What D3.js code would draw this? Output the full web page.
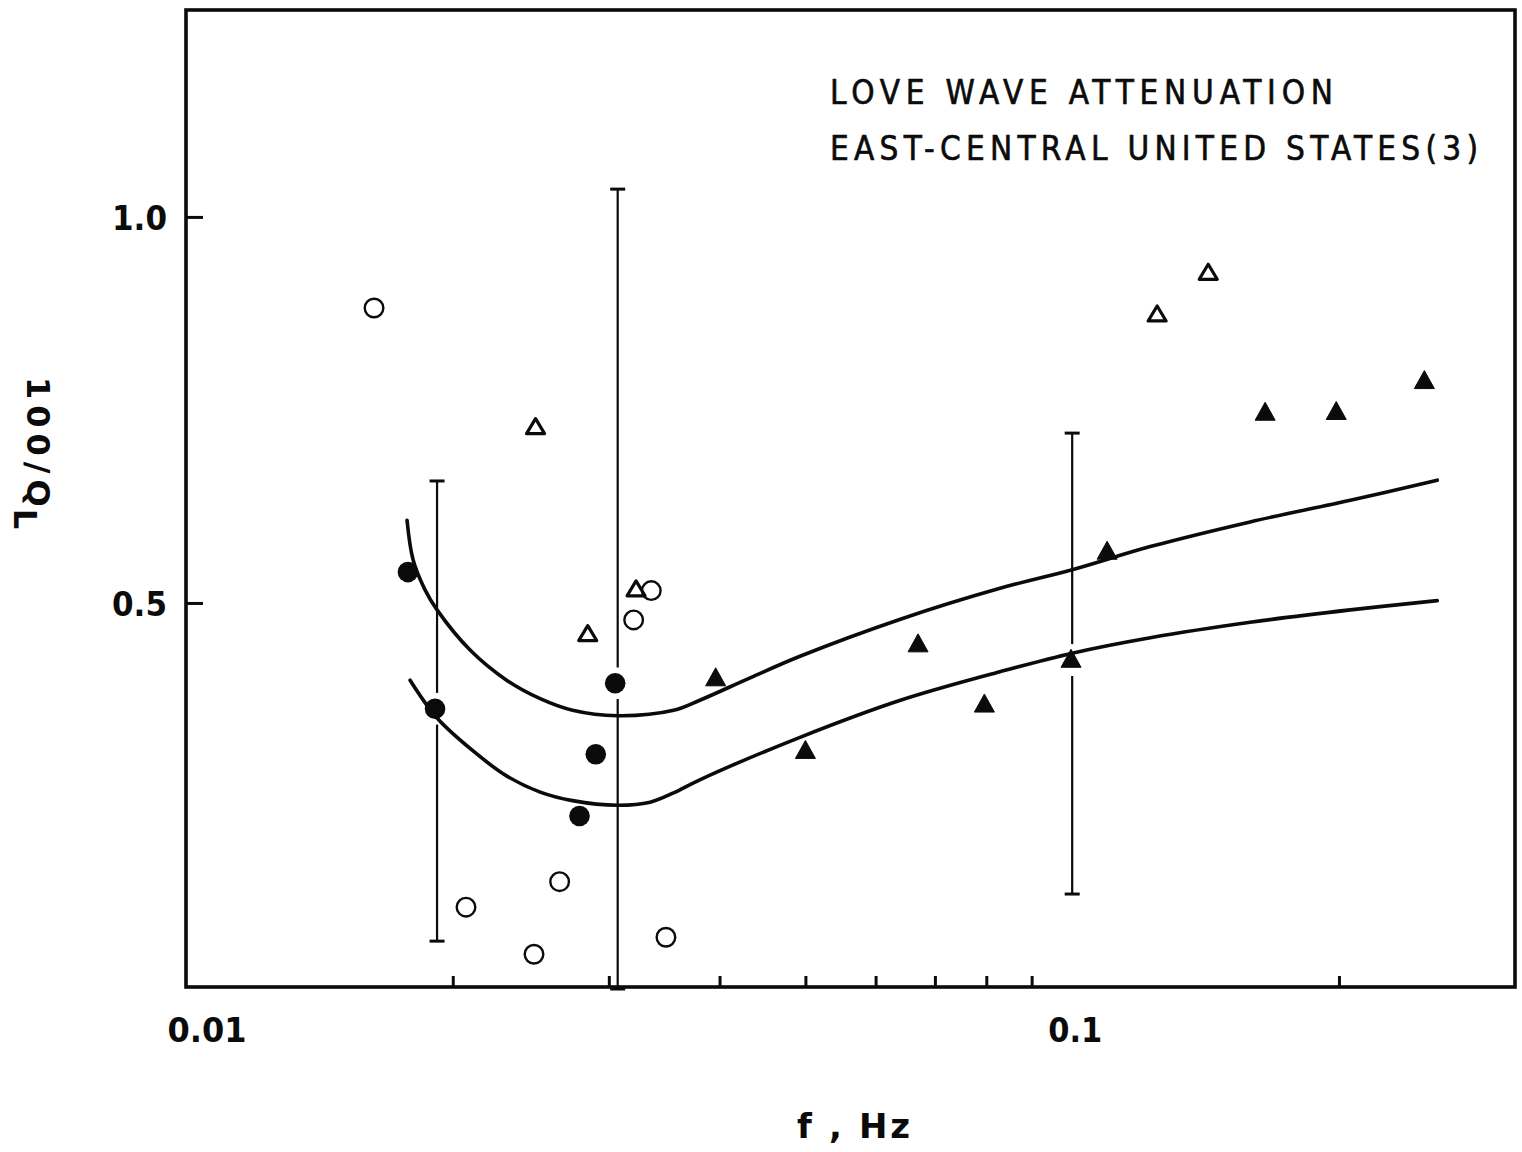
<!DOCTYPE html>
<html>
<head>
<meta charset="utf-8">
<script src="https://cdn.jsdelivr.net/npm/d3@7"></script>
<style>
  body { margin: 0; background: #fff; }
  svg { display: block; }
</style>
</head>
<body>
<svg id="chart" width="1522" height="1152"></svg>
<script>
// Love wave attenuation, east-central United States: 100/Q_L against frequency.

// Observations: open circles
const openCircleF = [0.0163, 0.0207, 0.0247, 0.0264, 0.0320, 0.0335, 0.0348];
const openCircleQ = [0.882, 0.106, 0.045, 0.139, 0.478, 0.516, 0.067];

// Observations: filled circles
const filledCircleF = [0.0178, 0.0191, 0.0278, 0.0290, 0.0305];
const filledCircleQ = [0.540, 0.363, 0.224, 0.304, 0.396];

// Observations: open triangles
const openTriangleF = [0.0248, 0.0284, 0.0322, 0.1247, 0.1424];
const openTriangleQ = [0.727, 0.459, 0.517, 0.873, 0.927];

// Observations: filled triangles
const filledTriangleF = [0.0396, 0.0500, 0.0670, 0.0796, 0.0997, 0.1095, 0.1651, 0.1986, 0.2497];
const filledTriangleQ = [0.402, 0.308, 0.446, 0.368, 0.426, 0.566, 0.746, 0.747, 0.787];

// Error bars
const errorF  = [0.0192, 0.0307, 0.1000];
const errorLo = [0.062, 0.000, 0.123];
const errorHi = [0.658, 1.036, 0.720];

// Bounding curves of the model range
const upperCurveF = [0.01776, 0.01804, 0.01861, 0.0192, 0.02092, 0.0230, 0.0251, 0.0273, 0.0307, 0.0355, 0.0380, 0.0433, 0.0493, 0.0640, 0.0829, 0.1000, 0.1225, 0.1588, 0.2060, 0.2582];
const upperCurveQ = [0.607, 0.556, 0.517, 0.491, 0.439, 0.400, 0.376, 0.361, 0.354, 0.361, 0.374, 0.403, 0.431, 0.479, 0.519, 0.543, 0.573, 0.605, 0.633, 0.659];
const lowerCurveF = [0.0179, 0.0192, 0.0211, 0.0230, 0.0251, 0.0273, 0.0307, 0.0334, 0.0355, 0.0380, 0.0493, 0.0640, 0.0829, 0.1000, 0.1225, 0.1588, 0.2060, 0.2582];
const lowerCurveQ = [0.400, 0.351, 0.308, 0.276, 0.255, 0.244, 0.238, 0.242, 0.254, 0.271, 0.326, 0.374, 0.411, 0.435, 0.455, 0.475, 0.491, 0.503];

// Axis ticks and labels
const xMinorTicks = [0.02, 0.03, 0.04, 0.05, 0.06, 0.07, 0.08, 0.09, 0.2];
const xLabelValues = [0.01, 0.1];
const xLabelText = ["0.01", "0.1"];
const yTickValues = [0.5, 1.0];
const yTickText = ["0.5", "1.0"];

const titleLines = ["LOVE WAVE ATTENUATION", "EAST-CENTRAL UNITED STATES(3)"];

const svg = d3.select("#chart");
const x = d3.scaleLog().domain([0.01, 0.316]).range([186, 1515]);
const y = d3.scaleLinear().domain([0, 1.268]).range([989, 10]);
const ink = "#0b0b0b";
const zip = (a, b) => a.map((v, i) => [v, b[i]]);

// Frame
svg.append("rect")
  .attr("x", x.range()[0]).attr("y", y.range()[1])
  .attr("width", x.range()[1] - x.range()[0])
  .attr("height", y.range()[0] - y.range()[1] - 2)
  .attr("fill", "none").attr("stroke", ink).attr("stroke-width", 3.6);

// Minor ticks on the frequency axis (pointing into the plot)
const xAxis = svg.append("g")
  .attr("transform", `translate(0,${y.range()[0] - 2})`)
  .call(d3.axisBottom(x).tickValues(xMinorTicks).tickSize(-11).tickFormat(""));
xAxis.select(".domain").remove();
xAxis.selectAll(".tick line").attr("stroke", ink).attr("stroke-width", 3);

// Ticks on the 100/Q axis
const yAxis = svg.append("g")
  .attr("transform", `translate(${x.range()[0]},0)`)
  .call(d3.axisLeft(y).tickValues(yTickValues).tickSize(-17).tickFormat(""));
yAxis.select(".domain").remove();
yAxis.selectAll(".tick line").attr("stroke", ink).attr("stroke-width", 3);

const labelFont = "'DejaVu Sans', 'Liberation Sans', sans-serif";

// Frequency labels
const xLabelShift = [21, 3];
svg.append("g").selectAll("text")
  .data(xLabelValues)
  .join("text")
  .attr("x", (d, i) => x(d) + xLabelShift[i])
  .attr("y", 1042)
  .attr("text-anchor", "middle")
  .attr("font-family", labelFont)
  .attr("font-weight", "bold")
  .attr("font-size", 33)
  .attr("textLength", (d, i) => i === 0 ? 79 : 54)
  .attr("lengthAdjust", "spacingAndGlyphs")
  .attr("fill", ink)
  .text((d, i) => xLabelText[i]);

// 100/Q labels
svg.append("g").selectAll("text")
  .data(yTickValues)
  .join("text")
  .attr("x", 167)
  .attr("y", d => y(d) + 13)
  .attr("text-anchor", "end")
  .attr("font-family", labelFont)
  .attr("font-weight", "bold")
  .attr("font-size", 33)
  .attr("textLength", 55)
  .attr("lengthAdjust", "spacingAndGlyphs")
  .attr("fill", ink)
  .text((d, i) => yTickText[i]);

// Axis titles
svg.append("text")
  .attr("x", 797).attr("y", 1138)
  .attr("font-family", labelFont)
  .attr("font-weight", "bold")
  .attr("font-size", 34)
  .attr("textLength", 113)
  .attr("lengthAdjust", "spacing")
  .attr("fill", ink)
  .text("f , Hz");

const yTitle = svg.append("text")
  .attr("transform", "translate(27,377) rotate(90)")
  .attr("font-family", labelFont)
  .attr("font-weight", "bold")
  .attr("font-size", 32)
  .attr("fill", ink);
yTitle.append("tspan").attr("letter-spacing", 6).text("100/Q");
yTitle.append("tspan").attr("dy", 13).attr("dx", -4).text("L");

// Title block
svg.append("g").selectAll("text")
  .data(titleLines)
  .join("text")
  .attr("x", 830)
  .attr("y", (d, i) => 104 + i * 56)
  .attr("font-family", "'DejaVu Sans Condensed', 'DejaVu Sans', sans-serif")
  .attr("font-size", 33)
  .attr("textLength", (d, i) => i === 0 ? 503 : 648)
  .attr("lengthAdjust", "spacing")
  .attr("fill", ink)
  .attr("stroke", ink)
  .attr("stroke-width", 0.6)
  .text(d => d);

// Error bars
const capHalf = 7.5;
const bars = svg.append("g").attr("stroke", ink).attr("stroke-width", 2.2).attr("fill", "none");
errorF.forEach((f, i) => {
  const px = x(f);
  bars.append("line").attr("x1", px).attr("x2", px).attr("y1", y(errorLo[i])).attr("y2", y(errorHi[i]));
  bars.append("line").attr("x1", px - capHalf).attr("x2", px + capHalf).attr("y1", y(errorHi[i])).attr("y2", y(errorHi[i])).attr("stroke-width", 3);
  bars.append("line").attr("x1", px - capHalf).attr("x2", px + capHalf).attr("y1", y(errorLo[i])).attr("y2", y(errorLo[i])).attr("stroke-width", 3);
});

// White halos break the error bars around solid symbols
const filledPts = zip(filledCircleF, filledCircleQ).concat(zip(filledTriangleF, filledTriangleQ));
svg.append("g").selectAll("circle")
  .data(filledPts)
  .join("circle")
  .attr("cx", d => x(d[0])).attr("cy", d => y(d[1]))
  .attr("r", 16).attr("fill", "#fff");

// Curves
const line = d3.line().x(d => x(d[0])).y(d => y(d[1])).curve(d3.curveCatmullRom.alpha(0.5));
svg.append("g").selectAll("path")
  .data([zip(upperCurveF, upperCurveQ), zip(lowerCurveF, lowerCurveQ)])
  .join("path")
  .attr("d", line)
  .attr("fill", "none").attr("stroke", ink).attr("stroke-width", 3.6)
  .attr("stroke-linecap", "round");

// Symbols
const tri = (w, h) => `M0,${-h * 0.6}L${w / 2},${h * 0.4}L${-w / 2},${h * 0.4}Z`;

svg.append("g").selectAll("circle")
  .data(zip(openCircleF, openCircleQ))
  .join("circle")
  .attr("cx", d => x(d[0])).attr("cy", d => y(d[1]))
  .attr("r", 9.3).attr("fill", "none").attr("stroke", ink).attr("stroke-width", 2.4);

svg.append("g").selectAll("circle")
  .data(zip(filledCircleF, filledCircleQ))
  .join("circle")
  .attr("cx", d => x(d[0])).attr("cy", d => y(d[1]))
  .attr("r", 10.3).attr("fill", ink);

svg.append("g").selectAll("path")
  .data(zip(openTriangleF, openTriangleQ))
  .join("path")
  .attr("transform", d => `translate(${x(d[0])},${y(d[1])})`)
  .attr("d", tri(18, 15))
  .attr("fill", "none").attr("stroke", ink).attr("stroke-width", 3.2).attr("stroke-linejoin", "round");

svg.append("g").selectAll("path")
  .data(zip(filledTriangleF, filledTriangleQ))
  .join("path")
  .attr("transform", d => `translate(${x(d[0])},${y(d[1])})`)
  .attr("d", tri(20, 18))
  .attr("fill", ink).attr("stroke", ink).attr("stroke-width", 1).attr("stroke-linejoin", "round");
</script>
</body>
</html>
